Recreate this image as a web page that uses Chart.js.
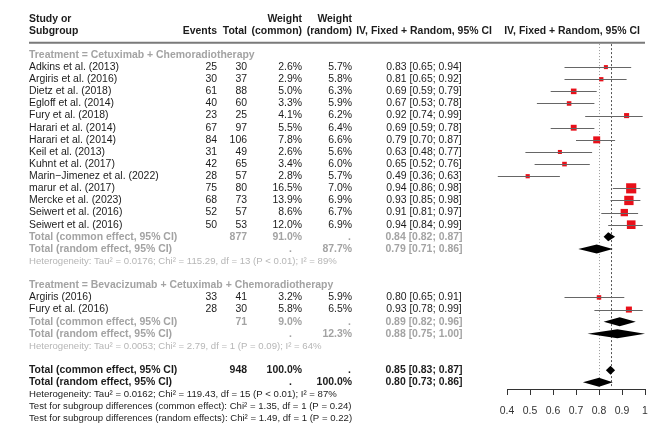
<!DOCTYPE html>
<html>
<head>
<meta charset="utf-8">
<script src="https://cdn.jsdelivr.net/npm/chart.js@4/dist/chart.umd.min.js"></script>
<style>
  html, body { margin: 0; padding: 0; background: #fff; }
  #wrap { width: 664px; height: 431px; }
</style>
</head>
<body>
<div id="wrap"><canvas id="forest" width="664" height="431"></canvas></div>
<script>
// ---- Study-level data ----
const subgroupNames = ["Cetuximab + Chemoradiotherapy", "Bevacizumab + Cetuximab + Chemoradiotherapy"];
const studyNames = [
  "Adkins et al. (2013)", "Argiris et al. (2016)", "Dietz et al. (2018)", "Egloff et al. (2014)",
  "Fury et al. (2018)", "Harari et al. (2014)", "Harari et al. (2014)", "Keil et al. (2013)",
  "Kuhnt et al. (2017)", "Marin\u2212Jimenez et al. (2022)", "marur et al. (2017)", "Mercke et al. (2023)",
  "Seiwert et al. (2016)", "Seiwert et al. (2016)",
  "Argiris (2016)", "Fury et al. (2016)"
];
const studyGroup = [0,0,0,0,0,0,0,0,0,0,0,0,0,0, 1,1];
const events = [25, 30, 61, 40, 23, 67, 84, 31, 42, 28, 75, 68, 52, 50, 33, 28];
const totals = [30, 37, 88, 60, 25, 97, 106, 49, 65, 57, 80, 73, 57, 53, 41, 30];
const weightCommon = [2.6, 2.9, 5.0, 3.3, 4.1, 5.5, 7.8, 2.6, 3.4, 2.8, 16.5, 13.9, 8.6, 12.0, 3.2, 5.8];
const weightRandom = [5.7, 5.8, 6.3, 5.9, 6.2, 6.4, 6.6, 5.6, 6.0, 5.7, 7.0, 6.9, 6.7, 6.9, 5.9, 6.5];
const estimate = [0.83, 0.81, 0.69, 0.67, 0.92, 0.69, 0.79, 0.63, 0.65, 0.49, 0.94, 0.93, 0.91, 0.94, 0.80, 0.93];
const lower    = [0.65, 0.65, 0.59, 0.53, 0.74, 0.59, 0.70, 0.48, 0.52, 0.36, 0.86, 0.85, 0.81, 0.84, 0.65, 0.78];
const upper    = [0.94, 0.92, 0.79, 0.78, 0.99, 0.78, 0.87, 0.77, 0.76, 0.63, 0.98, 0.98, 0.97, 0.99, 0.91, 0.99];

// ---- Subgroup pooled results ----
const groupTotalN = [877, 71];
const groupWeightCommon = [91.0, 9.0];
const groupWeightRandom = [87.7, 12.3];
const groupCommonEst = [0.84, 0.89];
const groupCommonLo  = [0.82, 0.82];
const groupCommonHi  = [0.87, 0.96];
const groupRandomEst = [0.79, 0.88];
const groupRandomLo  = [0.71, 0.75];
const groupRandomHi  = [0.86, 1.00];
const groupTau2 = ["0.0176", "0.0053"];
const groupChi2 = ["115.29", "2.79"];
const groupDf   = [13, 1];
const groupP    = ["< 0.01", "= 0.09"];
const groupI2   = [89, 64];

// ---- Overall pooled results ----
const overallN = 948;
const overallCommon = [0.85, 0.83, 0.87];   // estimate, lower, upper
const overallRandom = [0.80, 0.73, 0.86];
const overallHet = ["0.0162", "119.43", 15, "< 0.01", 87]; // tau2, chi2, df, p, I2
const testCommon = ["1.35", 1, "0.24"];     // chi2, df, p
const testRandom = ["1.49", 1, "0.22"];
const axisTicks = [0.4, 0.5, 0.6, 0.7, 0.8, 0.9, 1];

// ---- Row layout (one text line per row) ----
const studyRow = [], groupLabelRow = [], groupCRow = [], groupRRow = [], groupHetRow = [];
let r = -1;
subgroupNames.forEach((g, gi) => {
  groupLabelRow[gi] = r++;
  studyNames.forEach((s, i) => { if (studyGroup[i] === gi) studyRow[i] = r++; });
  groupCRow[gi] = r++;
  groupRRow[gi] = r++;
  groupHetRow[gi] = r++;
  r++;
});
const overallCRow = r++, overallRRow = r++, overallHetRow = r++, testCRow = r++, testRRow = r++;

const FONT = '"Liberation Sans", Arial, Helvetica, sans-serif';
const FS = 10.45, FS_SMALL = 9.6;
const BLACK = '#1c1c1c', GREY = '#a3a3a3', LIGHT = '#b6b6b6';

const fmtCI = (e, l, h) => `${e.toFixed(2)} [${l.toFixed(2)}; ${h.toFixed(2)}]`;
const pct = v => v.toFixed(1) + '%';

// column anchors
const COL = { study: 29, events: 217, total: 247, wCom: 302, wRan: 352, ci: 424, plot: 572 };

const tablePlugin = {
  id: 'forestTable',
  beforeDatasetsDraw(chart) {
    const { ctx, scales: { x, y } } = chart;
    ctx.save();
    // reference lines for the pooled common / random estimates
    const y0 = y.getPixelForValue(-1.9), y1 = y.getPixelForValue(overallRRow + 0.4);
    [[overallRandom[0], '#9a9a9a', [1, 2]], [overallCommon[0], '#555', [2, 2]]].forEach(([v, c, d]) => {
      const px = Math.round(x.getPixelForValue(v)) + 0.5;
      ctx.strokeStyle = c; ctx.lineWidth = 1; ctx.setLineDash(d);
      ctx.beginPath(); ctx.moveTo(px, y0); ctx.lineTo(px, y1); ctx.stroke();
    });
    ctx.restore();
  },
  afterDatasetsDraw(chart) {
    const { ctx, scales: { x, y } } = chart;
    ctx.save();
    // confidence intervals for each study
    ctx.strokeStyle = '#666'; ctx.lineWidth = 1;
    estimate.forEach((e, i) => {
      const py = Math.round(y.getPixelForValue(studyRow[i])) + 0.5;
      ctx.beginPath();
      ctx.moveTo(x.getPixelForValue(lower[i]), py);
      ctx.lineTo(x.getPixelForValue(upper[i]), py);
      ctx.stroke();
    });
    // pooled diamonds
    const diamond = (row, e, l, h) => {
      const py = y.getPixelForValue(row), hh = 4.5;
      ctx.fillStyle = '#000';
      ctx.beginPath();
      ctx.moveTo(x.getPixelForValue(l), py);
      ctx.lineTo(x.getPixelForValue(e), py - hh);
      ctx.lineTo(x.getPixelForValue(h), py);
      ctx.lineTo(x.getPixelForValue(e), py + hh);
      ctx.closePath(); ctx.fill();
    };
    subgroupNames.forEach((g, gi) => {
      diamond(groupCRow[gi], groupCommonEst[gi], groupCommonLo[gi], groupCommonHi[gi]);
      diamond(groupRRow[gi], groupRandomEst[gi], groupRandomLo[gi], groupRandomHi[gi]);
    });
    diamond(overallCRow, ...overallCommon);
    diamond(overallRRow, ...overallRandom);
    ctx.restore();
  },
  afterDraw(chart) {
    const { ctx, scales: { y } } = chart;
    const text = (str, px, row, align, color, bold, size) => {
      ctx.font = `${bold ? 'bold ' : ''}${size || FS}px ${FONT}`;
      ctx.fillStyle = color; ctx.textAlign = align; ctx.textBaseline = 'middle';
      ctx.fillText(str, px, y.getPixelForValue(row));
    };
    ctx.save();
    // header
    text('Study or', COL.study, -4, 'left', BLACK, true);
    text('Subgroup', COL.study, -3, 'left', BLACK, true);
    text('Events', COL.events, -3, 'right', BLACK, true);
    text('Total', COL.total, -3, 'right', BLACK, true);
    text('Weight', COL.wCom, -4, 'right', BLACK, true);
    text('(common)', COL.wCom, -3, 'right', BLACK, true);
    text('Weight', COL.wRan, -4, 'right', BLACK, true);
    text('(random)', COL.wRan, -3, 'right', BLACK, true);
    text('IV, Fixed + Random, 95% CI', COL.ci, -3, 'center', BLACK, true);
    text('IV, Fixed + Random, 95% CI', COL.plot, -3, 'center', BLACK, true);
    const ry = y.getPixelForValue(-2);
    ctx.strokeStyle = '#7a7a7a'; ctx.lineWidth = 2;
    ctx.beginPath(); ctx.moveTo(COL.study, ry); ctx.lineTo(645, ry); ctx.stroke();

    subgroupNames.forEach((g, gi) => {
      text('Treatment = ' + g, COL.study, groupLabelRow[gi], 'left', GREY, true);
      studyNames.forEach((s, i) => {
        if (studyGroup[i] !== gi) return;
        const row = studyRow[i];
        text(s, COL.study, row, 'left', BLACK);
        text(String(events[i]), COL.events, row, 'right', BLACK);
        text(String(totals[i]), COL.total, row, 'right', BLACK);
        text(pct(weightCommon[i]), COL.wCom, row, 'right', BLACK);
        text(pct(weightRandom[i]), COL.wRan, row, 'right', BLACK);
        text(fmtCI(estimate[i], lower[i], upper[i]), COL.ci, row, 'center', BLACK);
      });
      text('Total (common effect, 95% CI)', COL.study, groupCRow[gi], 'left', GREY, true);
      text(String(groupTotalN[gi]), COL.total, groupCRow[gi], 'right', GREY, true);
      text(pct(groupWeightCommon[gi]), COL.wCom, groupCRow[gi], 'right', GREY, true);
      text('.', COL.wRan - 1, groupCRow[gi], 'right', GREY, true);
      text(fmtCI(groupCommonEst[gi], groupCommonLo[gi], groupCommonHi[gi]), COL.ci, groupCRow[gi], 'center', GREY, true);
      text('Total (random effect, 95% CI)', COL.study, groupRRow[gi], 'left', GREY, true);
      text('.', COL.wCom - 10, groupRRow[gi], 'right', GREY, true);
      text(pct(groupWeightRandom[gi]), COL.wRan, groupRRow[gi], 'right', GREY, true);
      text(fmtCI(groupRandomEst[gi], groupRandomLo[gi], groupRandomHi[gi]), COL.ci, groupRRow[gi], 'center', GREY, true);
      text(`Heterogeneity: Tau\u00b2 = ${groupTau2[gi]}; Chi\u00b2 = ${groupChi2[gi]}, df = ${groupDf[gi]} (P ${groupP[gi]}); I\u00b2 = ${groupI2[gi]}%`,
        COL.study, groupHetRow[gi], 'left', LIGHT, false, FS_SMALL);
    });

    text('Total (common effect, 95% CI)', COL.study, overallCRow, 'left', BLACK, true);
    text(String(overallN), COL.total, overallCRow, 'right', BLACK, true);
    text('100.0%', COL.wCom, overallCRow, 'right', BLACK, true);
    text('.', COL.wRan - 1, overallCRow, 'right', BLACK, true);
    text(fmtCI(...overallCommon), COL.ci, overallCRow, 'center', BLACK, true);
    text('Total (random effect, 95% CI)', COL.study, overallRRow, 'left', BLACK, true);
    text('.', COL.wCom - 10, overallRRow, 'right', BLACK, true);
    text('100.0%', COL.wRan, overallRRow, 'right', BLACK, true);
    text(fmtCI(...overallRandom), COL.ci, overallRRow, 'center', BLACK, true);
    text(`Heterogeneity: Tau\u00b2 = ${overallHet[0]}; Chi\u00b2 = ${overallHet[1]}, df = ${overallHet[2]} (P ${overallHet[3]}); I\u00b2 = ${overallHet[4]}%`,
      COL.study, overallHetRow, 'left', BLACK, false, FS_SMALL);
    text(`Test for subgroup differences (common effect): Chi\u00b2 = ${testCommon[0]}, df = ${testCommon[1]} (P = ${testCommon[2]})`,
      COL.study, testCRow, 'left', BLACK, false, FS_SMALL);
    text(`Test for subgroup differences (random effects): Chi\u00b2 = ${testRandom[0]}, df = ${testRandom[1]} (P = ${testRandom[2]})`,
      COL.study, testRRow, 'left', BLACK, false, FS_SMALL);
    ctx.restore();
  }
};

new Chart(document.getElementById('forest'), {
  type: 'scatter',
  data: {
    datasets: [{
      data: estimate.map((e, i) => ({ x: e, y: studyRow[i] })),
      pointStyle: 'rect',
      pointRadius: weightCommon.map(w => 2.5 * Math.sqrt(w) / Math.SQRT2),
      backgroundColor: '#e8101a',
      borderWidth: 0,
      clip: false
    }]
  },
  options: {
    responsive: false,
    animation: false,
    devicePixelRatio: 1,
    layout: { padding: { left: 507, right: 19, top: 0, bottom: 0 } },
    plugins: { legend: { display: false }, tooltip: { enabled: false } },
    scales: {
      y: { type: 'linear', display: false, reverse: true, min: -4.944, max: 29.426 },
      x: {
        type: 'linear', min: 0.4, max: 1,
        position: { y: 26.56 },
        afterBuildTicks: s => { s.ticks = axisTicks.map(v => ({ value: v })); },
        ticks: {
          callback: v => String(+v.toFixed(1)),
          font: { family: FONT, size: FS }, color: '#333', padding: 11, maxRotation: 0
        },
        grid: { drawOnChartArea: false, drawTicks: true, tickLength: 5, color: '#333', lineWidth: 1 },
        border: { display: true, color: '#333', width: 1 }
      }
    }
  },
  plugins: [tablePlugin]
});
</script>
</body>
</html>
